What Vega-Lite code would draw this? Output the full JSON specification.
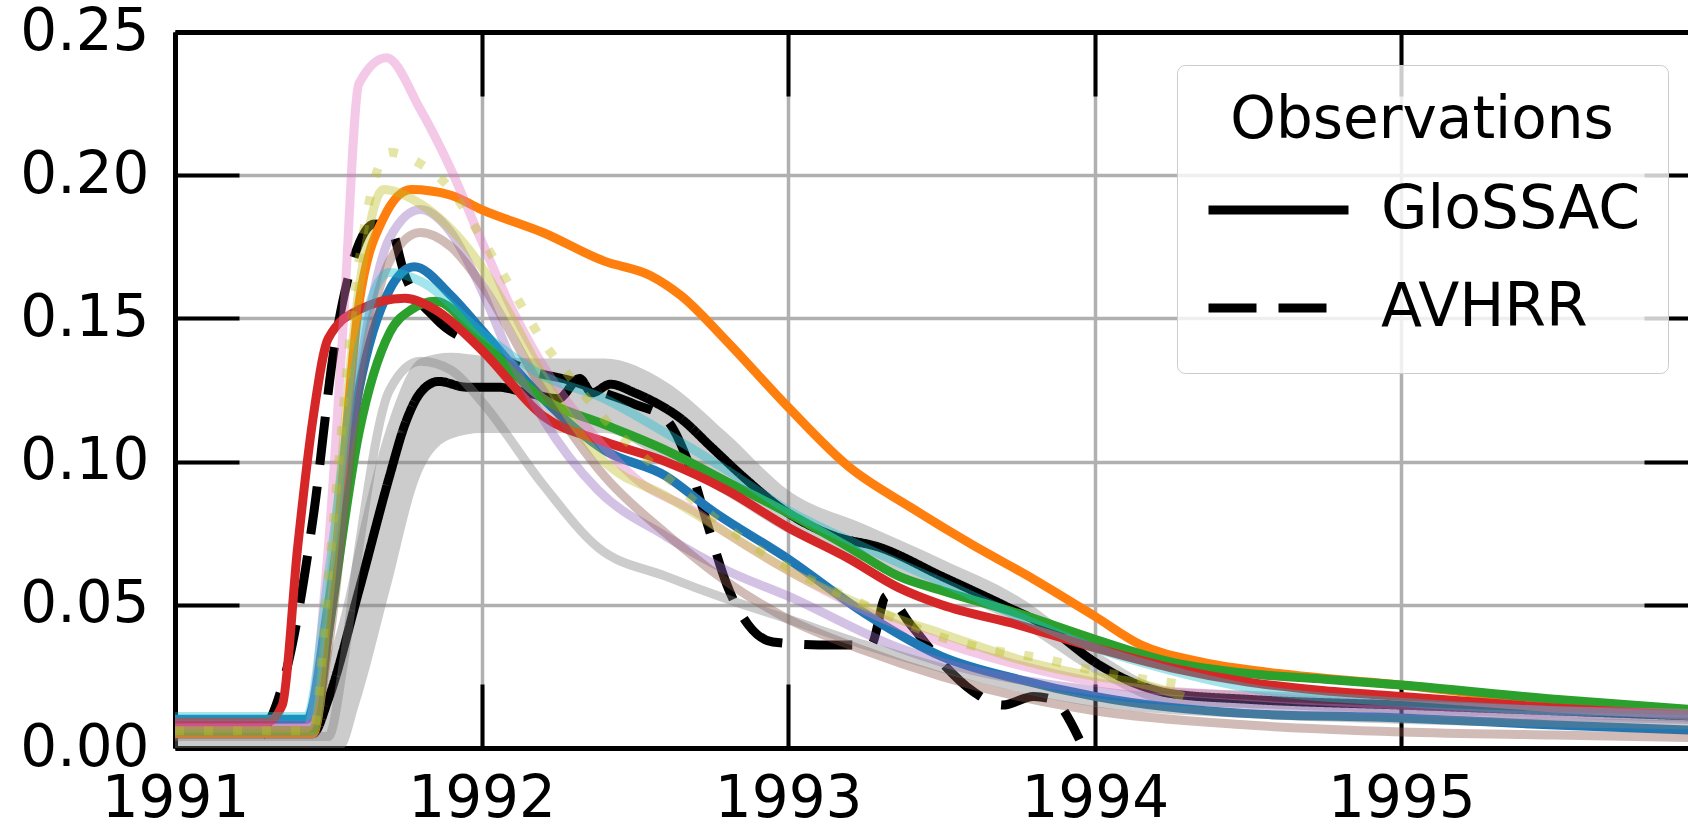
{
  "$schema": "https://vega.github.io/schema/vega-lite/v6.json",
  "width": 1513,
  "height": 716,
  "autosize": {"type": "none"},
  "padding": {"left": 175, "top": 32, "right": 0, "bottom": 77},
  "background": "white",
  "config": {"view": {"stroke": null}, "font": "DejaVu Sans"},
  "datasets": {
    "band": [
      {"year": 1991.0, "lo": 0.0, "hi": 0.010},
      {"year": 1991.45, "lo": 0.0, "hi": 0.010},
      {"year": 1991.5, "lo": 0.0, "hi": 0.030},
      {"year": 1991.55, "lo": 0.0, "hi": 0.050},
      {"year": 1991.6, "lo": 0.015, "hi": 0.075},
      {"year": 1991.7, "lo": 0.055, "hi": 0.115},
      {"year": 1991.8, "lo": 0.095, "hi": 0.136},
      {"year": 1991.9, "lo": 0.108, "hi": 0.138},
      {"year": 1992.0, "lo": 0.110, "hi": 0.137},
      {"year": 1992.2, "lo": 0.110, "hi": 0.136},
      {"year": 1992.4, "lo": 0.110, "hi": 0.136},
      {"year": 1992.6, "lo": 0.100, "hi": 0.128},
      {"year": 1992.8, "lo": 0.088, "hi": 0.110},
      {"year": 1993.0, "lo": 0.075, "hi": 0.090},
      {"year": 1993.25, "lo": 0.065, "hi": 0.078},
      {"year": 1993.5, "lo": 0.055, "hi": 0.066},
      {"year": 1993.75, "lo": 0.043, "hi": 0.053},
      {"year": 1994.0, "lo": 0.026, "hi": 0.034},
      {"year": 1994.25, "lo": 0.015, "hi": 0.021},
      {"year": 1994.5, "lo": 0.014, "hi": 0.020},
      {"year": 1995.0, "lo": 0.012, "hi": 0.018},
      {"year": 1996.0, "lo": 0.009, "hi": 0.014}
    ],
    "obs": [
      {"obs": "GloSSAC", "year": 1991.0, "aod": 0.005},
      {"obs": "GloSSAC", "year": 1991.45, "aod": 0.005},
      {"obs": "GloSSAC", "year": 1991.5, "aod": 0.017},
      {"obs": "GloSSAC", "year": 1991.6, "aod": 0.055},
      {"obs": "GloSSAC", "year": 1991.7, "aod": 0.095},
      {"obs": "GloSSAC", "year": 1991.75, "aod": 0.113},
      {"obs": "GloSSAC", "year": 1991.8, "aod": 0.124},
      {"obs": "GloSSAC", "year": 1991.86, "aod": 0.128},
      {"obs": "GloSSAC", "year": 1991.95, "aod": 0.126},
      {"obs": "GloSSAC", "year": 1992.05, "aod": 0.126},
      {"obs": "GloSSAC", "year": 1992.15, "aod": 0.124},
      {"obs": "GloSSAC", "year": 1992.25, "aod": 0.122},
      {"obs": "GloSSAC", "year": 1992.32, "aod": 0.129},
      {"obs": "GloSSAC", "year": 1992.36, "aod": 0.124},
      {"obs": "GloSSAC", "year": 1992.42, "aod": 0.127},
      {"obs": "GloSSAC", "year": 1992.5, "aod": 0.124},
      {"obs": "GloSSAC", "year": 1992.56, "aod": 0.121},
      {"obs": "GloSSAC", "year": 1992.65, "aod": 0.115},
      {"obs": "GloSSAC", "year": 1992.75, "aod": 0.105},
      {"obs": "GloSSAC", "year": 1992.85, "aod": 0.095},
      {"obs": "GloSSAC", "year": 1993.0, "aod": 0.082},
      {"obs": "GloSSAC", "year": 1993.15, "aod": 0.074},
      {"obs": "GloSSAC", "year": 1993.3, "aod": 0.070},
      {"obs": "GloSSAC", "year": 1993.5, "aod": 0.060},
      {"obs": "GloSSAC", "year": 1993.7, "aod": 0.050},
      {"obs": "GloSSAC", "year": 1993.85, "aod": 0.042},
      {"obs": "GloSSAC", "year": 1994.0, "aod": 0.030},
      {"obs": "GloSSAC", "year": 1994.1, "aod": 0.024},
      {"obs": "GloSSAC", "year": 1994.25, "aod": 0.019},
      {"obs": "GloSSAC", "year": 1994.5, "aod": 0.017},
      {"obs": "GloSSAC", "year": 1995.0, "aod": 0.015},
      {"obs": "GloSSAC", "year": 1995.5, "aod": 0.013},
      {"obs": "GloSSAC", "year": 1996.0, "aod": 0.011},
      {"obs": "AVHRR", "year": 1991.28, "aod": 0.004},
      {"obs": "AVHRR", "year": 1991.33, "aod": 0.015},
      {"obs": "AVHRR", "year": 1991.37, "aod": 0.030},
      {"obs": "AVHRR", "year": 1991.45, "aod": 0.080},
      {"obs": "AVHRR", "year": 1991.52, "aod": 0.140},
      {"obs": "AVHRR", "year": 1991.58, "aod": 0.170},
      {"obs": "AVHRR", "year": 1991.65, "aod": 0.183},
      {"obs": "AVHRR", "year": 1991.7, "aod": 0.182},
      {"obs": "AVHRR", "year": 1991.75, "aod": 0.165},
      {"obs": "AVHRR", "year": 1991.85, "aod": 0.150},
      {"obs": "AVHRR", "year": 1992.0, "aod": 0.140},
      {"obs": "AVHRR", "year": 1992.15, "aod": 0.132},
      {"obs": "AVHRR", "year": 1992.3, "aod": 0.128},
      {"obs": "AVHRR", "year": 1992.4, "aod": 0.124},
      {"obs": "AVHRR", "year": 1992.5, "aod": 0.120},
      {"obs": "AVHRR", "year": 1992.6, "aod": 0.115},
      {"obs": "AVHRR", "year": 1992.68, "aod": 0.098},
      {"obs": "AVHRR", "year": 1992.74, "aod": 0.077},
      {"obs": "AVHRR", "year": 1992.8, "aod": 0.057},
      {"obs": "AVHRR", "year": 1992.87, "aod": 0.043},
      {"obs": "AVHRR", "year": 1992.95, "aod": 0.037},
      {"obs": "AVHRR", "year": 1993.1, "aod": 0.036},
      {"obs": "AVHRR", "year": 1993.27, "aod": 0.036},
      {"obs": "AVHRR", "year": 1993.32, "aod": 0.053},
      {"obs": "AVHRR", "year": 1993.4, "aod": 0.043},
      {"obs": "AVHRR", "year": 1993.5, "aod": 0.030},
      {"obs": "AVHRR", "year": 1993.6, "aod": 0.020},
      {"obs": "AVHRR", "year": 1993.7, "aod": 0.015},
      {"obs": "AVHRR", "year": 1993.8, "aod": 0.018},
      {"obs": "AVHRR", "year": 1993.86, "aod": 0.017},
      {"obs": "AVHRR", "year": 1993.95, "aod": 0.003}
    ],
    "models": [
      {"model": "M01", "year": 1991.0, "aod": 0.010},
      {"model": "M01", "year": 1991.43, "aod": 0.010},
      {"model": "M01", "year": 1991.5, "aod": 0.050},
      {"model": "M01", "year": 1991.6, "aod": 0.125},
      {"model": "M01", "year": 1991.7, "aod": 0.160},
      {"model": "M01", "year": 1991.78, "aod": 0.168},
      {"model": "M01", "year": 1991.9, "aod": 0.158},
      {"model": "M01", "year": 1992.0, "aod": 0.146},
      {"model": "M01", "year": 1992.2, "aod": 0.122},
      {"model": "M01", "year": 1992.4, "aod": 0.104},
      {"model": "M01", "year": 1992.6, "aod": 0.095},
      {"model": "M01", "year": 1992.75, "aod": 0.083},
      {"model": "M01", "year": 1993.0, "aod": 0.066},
      {"model": "M01", "year": 1993.25, "aod": 0.047},
      {"model": "M01", "year": 1993.5, "aod": 0.032},
      {"model": "M01", "year": 1993.75, "aod": 0.024},
      {"model": "M01", "year": 1994.0, "aod": 0.018},
      {"model": "M01", "year": 1994.5, "aod": 0.012},
      {"model": "M01", "year": 1995.0, "aod": 0.0105},
      {"model": "M01", "year": 1995.5, "aod": 0.008},
      {"model": "M01", "year": 1996.0, "aod": 0.006},

      {"model": "M02", "year": 1991.0, "aod": 0.005},
      {"model": "M02", "year": 1991.45, "aod": 0.005},
      {"model": "M02", "year": 1991.5, "aod": 0.040},
      {"model": "M02", "year": 1991.6, "aod": 0.155},
      {"model": "M02", "year": 1991.68, "aod": 0.185},
      {"model": "M02", "year": 1991.77, "aod": 0.195},
      {"model": "M02", "year": 1991.9, "aod": 0.193},
      {"model": "M02", "year": 1992.0, "aod": 0.188},
      {"model": "M02", "year": 1992.2, "aod": 0.180},
      {"model": "M02", "year": 1992.4, "aod": 0.170},
      {"model": "M02", "year": 1992.55, "aod": 0.165},
      {"model": "M02", "year": 1992.65, "aod": 0.158},
      {"model": "M02", "year": 1992.8, "aod": 0.142},
      {"model": "M02", "year": 1993.0, "aod": 0.119},
      {"model": "M02", "year": 1993.2, "aod": 0.098},
      {"model": "M02", "year": 1993.4, "aod": 0.084},
      {"model": "M02", "year": 1993.6, "aod": 0.071},
      {"model": "M02", "year": 1993.8, "aod": 0.059},
      {"model": "M02", "year": 1994.0, "aod": 0.046},
      {"model": "M02", "year": 1994.15, "aod": 0.036},
      {"model": "M02", "year": 1994.35, "aod": 0.030},
      {"model": "M02", "year": 1994.6, "aod": 0.026},
      {"model": "M02", "year": 1995.0, "aod": 0.022},
      {"model": "M02", "year": 1995.5, "aod": 0.016},
      {"model": "M02", "year": 1996.0, "aod": 0.012},

      {"model": "M03", "year": 1991.0, "aod": 0.006},
      {"model": "M03", "year": 1991.45, "aod": 0.006},
      {"model": "M03", "year": 1991.5, "aod": 0.040},
      {"model": "M03", "year": 1991.6, "aod": 0.110},
      {"model": "M03", "year": 1991.7, "aod": 0.145},
      {"model": "M03", "year": 1991.77, "aod": 0.153},
      {"model": "M03", "year": 1991.85, "aod": 0.156},
      {"model": "M03", "year": 1992.0, "aod": 0.142},
      {"model": "M03", "year": 1992.2, "aod": 0.122},
      {"model": "M03", "year": 1992.4, "aod": 0.113},
      {"model": "M03", "year": 1992.6, "aod": 0.104},
      {"model": "M03", "year": 1992.8, "aod": 0.093},
      {"model": "M03", "year": 1993.0, "aod": 0.082},
      {"model": "M03", "year": 1993.2, "aod": 0.070},
      {"model": "M03", "year": 1993.36, "aod": 0.060},
      {"model": "M03", "year": 1993.5, "aod": 0.055},
      {"model": "M03", "year": 1993.75, "aod": 0.047},
      {"model": "M03", "year": 1994.0, "aod": 0.038},
      {"model": "M03", "year": 1994.25, "aod": 0.030},
      {"model": "M03", "year": 1994.5, "aod": 0.026},
      {"model": "M03", "year": 1994.75, "aod": 0.024},
      {"model": "M03", "year": 1995.0, "aod": 0.022},
      {"model": "M03", "year": 1995.5, "aod": 0.017},
      {"model": "M03", "year": 1996.0, "aod": 0.013},

      {"model": "M04", "year": 1991.0, "aod": 0.009},
      {"model": "M04", "year": 1991.3, "aod": 0.009},
      {"model": "M04", "year": 1991.35, "aod": 0.015},
      {"model": "M04", "year": 1991.4, "aod": 0.070},
      {"model": "M04", "year": 1991.45, "aod": 0.115},
      {"model": "M04", "year": 1991.5, "aod": 0.143},
      {"model": "M04", "year": 1991.6, "aod": 0.153},
      {"model": "M04", "year": 1991.75, "aod": 0.157},
      {"model": "M04", "year": 1991.85, "aod": 0.153},
      {"model": "M04", "year": 1992.0, "aod": 0.139},
      {"model": "M04", "year": 1992.2, "aod": 0.116},
      {"model": "M04", "year": 1992.4, "aod": 0.107},
      {"model": "M04", "year": 1992.6, "aod": 0.100},
      {"model": "M04", "year": 1992.8, "aod": 0.090},
      {"model": "M04", "year": 1993.0, "aod": 0.077},
      {"model": "M04", "year": 1993.2, "aod": 0.066},
      {"model": "M04", "year": 1993.36, "aod": 0.056},
      {"model": "M04", "year": 1993.5, "aod": 0.050},
      {"model": "M04", "year": 1993.75, "aod": 0.043},
      {"model": "M04", "year": 1994.0, "aod": 0.035},
      {"model": "M04", "year": 1994.25, "aod": 0.028},
      {"model": "M04", "year": 1994.5, "aod": 0.023},
      {"model": "M04", "year": 1994.75, "aod": 0.020},
      {"model": "M04", "year": 1995.0, "aod": 0.018},
      {"model": "M04", "year": 1995.5, "aod": 0.014},
      {"model": "M04", "year": 1996.0, "aod": 0.011},

      {"model": "M05", "year": 1991.0, "aod": 0.008},
      {"model": "M05", "year": 1991.45, "aod": 0.008},
      {"model": "M05", "year": 1991.5, "aod": 0.040},
      {"model": "M05", "year": 1991.6, "aod": 0.130},
      {"model": "M05", "year": 1991.7, "aod": 0.178},
      {"model": "M05", "year": 1991.8, "aod": 0.188},
      {"model": "M05", "year": 1991.9, "aod": 0.180},
      {"model": "M05", "year": 1992.0, "aod": 0.160},
      {"model": "M05", "year": 1992.1, "aod": 0.135},
      {"model": "M05", "year": 1992.2, "aod": 0.115},
      {"model": "M05", "year": 1992.38, "aod": 0.090},
      {"model": "M05", "year": 1992.6, "aod": 0.074},
      {"model": "M05", "year": 1992.8, "aod": 0.062},
      {"model": "M05", "year": 1993.0, "aod": 0.053},
      {"model": "M05", "year": 1993.36, "aod": 0.035},
      {"model": "M05", "year": 1993.5, "aod": 0.030},
      {"model": "M05", "year": 1994.0, "aod": 0.020},
      {"model": "M05", "year": 1994.66, "aod": 0.0143},
      {"model": "M05", "year": 1995.0, "aod": 0.013},
      {"model": "M05", "year": 1995.5, "aod": 0.011},
      {"model": "M05", "year": 1996.0, "aod": 0.0098},

      {"model": "M06", "year": 1991.0, "aod": 0.006},
      {"model": "M06", "year": 1991.45, "aod": 0.006},
      {"model": "M06", "year": 1991.5, "aod": 0.035},
      {"model": "M06", "year": 1991.6, "aod": 0.125},
      {"model": "M06", "year": 1991.7, "aod": 0.170},
      {"model": "M06", "year": 1991.8, "aod": 0.180},
      {"model": "M06", "year": 1991.9, "aod": 0.175},
      {"model": "M06", "year": 1992.0, "aod": 0.162},
      {"model": "M06", "year": 1992.2, "aod": 0.125},
      {"model": "M06", "year": 1992.4, "aod": 0.095},
      {"model": "M06", "year": 1992.6, "aod": 0.075},
      {"model": "M06", "year": 1992.8, "aod": 0.058},
      {"model": "M06", "year": 1993.0, "aod": 0.045},
      {"model": "M06", "year": 1993.25, "aod": 0.034},
      {"model": "M06", "year": 1993.5, "aod": 0.025},
      {"model": "M06", "year": 1993.75, "aod": 0.018},
      {"model": "M06", "year": 1994.0, "aod": 0.013},
      {"model": "M06", "year": 1994.5, "aod": 0.008},
      {"model": "M06", "year": 1995.0, "aod": 0.0056},
      {"model": "M06", "year": 1995.5, "aod": 0.0045},
      {"model": "M06", "year": 1996.0, "aod": 0.0035},

      {"model": "M07", "year": 1991.0, "aod": 0.007},
      {"model": "M07", "year": 1991.43, "aod": 0.007},
      {"model": "M07", "year": 1991.5, "aod": 0.070},
      {"model": "M07", "year": 1991.55, "aod": 0.150},
      {"model": "M07", "year": 1991.6, "aod": 0.232},
      {"model": "M07", "year": 1991.69, "aod": 0.241},
      {"model": "M07", "year": 1991.8, "aod": 0.223},
      {"model": "M07", "year": 1991.9, "aod": 0.202},
      {"model": "M07", "year": 1992.0, "aod": 0.177},
      {"model": "M07", "year": 1992.1, "aod": 0.153},
      {"model": "M07", "year": 1992.17, "aod": 0.139},
      {"model": "M07", "year": 1992.3, "aod": 0.118},
      {"model": "M07", "year": 1992.4, "aod": 0.105},
      {"model": "M07", "year": 1992.52, "aod": 0.0925},
      {"model": "M07", "year": 1992.69, "aod": 0.083},
      {"model": "M07", "year": 1992.8, "aod": 0.075},
      {"model": "M07", "year": 1993.0, "aod": 0.062},
      {"model": "M07", "year": 1993.25, "aod": 0.048},
      {"model": "M07", "year": 1993.5, "aod": 0.037},
      {"model": "M07", "year": 1993.75, "aod": 0.029},
      {"model": "M07", "year": 1994.0, "aod": 0.023},
      {"model": "M07", "year": 1994.5, "aod": 0.018},
      {"model": "M07", "year": 1995.0, "aod": 0.015},
      {"model": "M07", "year": 1995.5, "aod": 0.013},
      {"model": "M07", "year": 1996.0, "aod": 0.012},

      {"model": "M08", "year": 1991.0, "aod": 0.004},
      {"model": "M08", "year": 1991.5, "aod": 0.004},
      {"model": "M08", "year": 1991.55, "aod": 0.030},
      {"model": "M08", "year": 1991.6, "aod": 0.070},
      {"model": "M08", "year": 1991.7, "aod": 0.125},
      {"model": "M08", "year": 1991.8, "aod": 0.135},
      {"model": "M08", "year": 1991.9, "aod": 0.132},
      {"model": "M08", "year": 1992.0, "aod": 0.121},
      {"model": "M08", "year": 1992.2, "aod": 0.092},
      {"model": "M08", "year": 1992.38, "aod": 0.070},
      {"model": "M08", "year": 1992.6, "aod": 0.060},
      {"model": "M08", "year": 1992.8, "aod": 0.052},
      {"model": "M08", "year": 1993.0, "aod": 0.045},
      {"model": "M08", "year": 1993.25, "aod": 0.036},
      {"model": "M08", "year": 1993.5, "aod": 0.028},
      {"model": "M08", "year": 1994.0, "aod": 0.016},
      {"model": "M08", "year": 1994.5, "aod": 0.012},
      {"model": "M08", "year": 1995.0, "aod": 0.010},
      {"model": "M08", "year": 1996.0, "aod": 0.008},

      {"model": "M09", "year": 1991.0, "aod": 0.006},
      {"model": "M09", "year": 1991.45, "aod": 0.006},
      {"model": "M09", "year": 1991.5, "aod": 0.050},
      {"model": "M09", "year": 1991.6, "aod": 0.160},
      {"model": "M09", "year": 1991.68, "aod": 0.195},
      {"model": "M09", "year": 1991.8, "aod": 0.190},
      {"model": "M09", "year": 1992.0, "aod": 0.168},
      {"model": "M09", "year": 1992.1, "aod": 0.150},
      {"model": "M09", "year": 1992.2, "aod": 0.130},
      {"model": "M09", "year": 1992.4, "aod": 0.100},
      {"model": "M09", "year": 1992.6, "aod": 0.088},
      {"model": "M09", "year": 1992.8, "aod": 0.075},
      {"model": "M09", "year": 1993.0, "aod": 0.062},
      {"model": "M09", "year": 1993.36, "aod": 0.045},
      {"model": "M09", "year": 1993.5, "aod": 0.040},
      {"model": "M09", "year": 1993.75, "aod": 0.031},
      {"model": "M09", "year": 1994.0, "aod": 0.025},
      {"model": "M09", "year": 1994.13, "aod": 0.023},
      {"model": "M09", "year": 1994.29, "aod": 0.018},

      {"model": "M10", "year": 1991.0, "aod": 0.011},
      {"model": "M10", "year": 1991.43, "aod": 0.011},
      {"model": "M10", "year": 1991.5, "aod": 0.060},
      {"model": "M10", "year": 1991.6, "aod": 0.140},
      {"model": "M10", "year": 1991.7, "aod": 0.166},
      {"model": "M10", "year": 1991.8, "aod": 0.163},
      {"model": "M10", "year": 1992.0, "aod": 0.145},
      {"model": "M10", "year": 1992.2, "aod": 0.130},
      {"model": "M10", "year": 1992.4, "aod": 0.122},
      {"model": "M10", "year": 1992.6, "aod": 0.110},
      {"model": "M10", "year": 1992.8, "aod": 0.097},
      {"model": "M10", "year": 1993.0, "aod": 0.083},
      {"model": "M10", "year": 1993.25, "aod": 0.070},
      {"model": "M10", "year": 1993.5, "aod": 0.058},
      {"model": "M10", "year": 1993.75, "aod": 0.046},
      {"model": "M10", "year": 1994.0, "aod": 0.035},
      {"model": "M10", "year": 1994.25, "aod": 0.027},
      {"model": "M10", "year": 1994.5, "aod": 0.021},
      {"model": "M10", "year": 1995.0, "aod": 0.016},
      {"model": "M10", "year": 1995.5, "aod": 0.013},
      {"model": "M10", "year": 1996.0, "aod": 0.011}
    ],
    "dotted": [
      {"model": "M11", "year": 1991.0, "aod": 0.006},
      {"model": "M11", "year": 1991.45, "aod": 0.006},
      {"model": "M11", "year": 1991.5, "aod": 0.060},
      {"model": "M11", "year": 1991.6, "aod": 0.170},
      {"model": "M11", "year": 1991.7, "aod": 0.208},
      {"model": "M11", "year": 1991.8, "aod": 0.204},
      {"model": "M11", "year": 1991.9, "aod": 0.195},
      {"model": "M11", "year": 1992.0, "aod": 0.178},
      {"model": "M11", "year": 1992.1, "aod": 0.160},
      {"model": "M11", "year": 1992.2, "aod": 0.142},
      {"model": "M11", "year": 1992.3, "aod": 0.128},
      {"model": "M11", "year": 1992.4, "aod": 0.115},
      {"model": "M11", "year": 1992.6, "aod": 0.095},
      {"model": "M11", "year": 1992.8, "aod": 0.077},
      {"model": "M11", "year": 1993.0, "aod": 0.063},
      {"model": "M11", "year": 1993.25, "aod": 0.050},
      {"model": "M11", "year": 1993.52, "aod": 0.038},
      {"model": "M11", "year": 1993.63, "aod": 0.035},
      {"model": "M11", "year": 1993.84, "aod": 0.031},
      {"model": "M11", "year": 1994.0, "aod": 0.027},
      {"model": "M11", "year": 1994.3, "aod": 0.022}
    ]
  },
  "layer": [
    {
      "data": {"name": "band"},
      "mark": {"type": "area", "color": "#808080", "opacity": 0.4, "interpolate": "monotone"},
      "encoding": {
        "x": {
          "field": "year", "type": "quantitative",
          "scale": {"domain": [1991, 1995.935], "nice": false, "zero": false},
          "axis": {
            "orient": "bottom", "values": [1991, 1992, 1993, 1994, 1995], "format": "d", "title": null,
            "grid": true, "gridColor": "#b0b0b0", "gridWidth": 3.5,
            "domainColor": "black", "domainWidth": 5,
            "tickColor": "black", "tickWidth": 4, "tickSize": -64,
            "labelFont": "DejaVu Sans", "labelFontSize": 58, "labelColor": "black",
            "labelPadding": 86, "labelFlush": false, "labelOverlap": false
          }
        },
        "y": {
          "field": "lo", "type": "quantitative",
          "scale": {"domain": [0, 0.25], "nice": false, "zero": false},
          "axis": {
            "orient": "left", "values": [0, 0.05, 0.1, 0.15, 0.2, 0.25], "format": ".2f", "title": null,
            "grid": true, "gridColor": "#b0b0b0", "gridWidth": 3.5,
            "domainColor": "black", "domainWidth": 5,
            "tickColor": "black", "tickWidth": 4, "tickSize": -64,
            "labelFont": "DejaVu Sans", "labelFontSize": 58, "labelColor": "black",
            "labelPadding": 90, "labelFlush": false, "labelOverlap": false
          }
        },
        "y2": {"field": "hi"}
      }
    },
    {
      "data": {"name": "obs"},
      "mark": {"type": "line", "color": "black", "strokeWidth": 9, "interpolate": "monotone"},
      "encoding": {
        "x": {
          "field": "year", "type": "quantitative",
          "axis": {
            "orient": "top", "values": [1991, 1992, 1993, 1994, 1995], "labels": false, "title": null,
            "grid": false, "domainColor": "black", "domainWidth": 5,
            "tickColor": "black", "tickWidth": 4, "tickSize": -64
          }
        },
        "y": {
          "field": "aod", "type": "quantitative",
          "axis": {
            "orient": "right", "values": [0.05, 0.1, 0.15, 0.2], "labels": false, "title": null,
            "grid": false, "domain": false, "offset": 20,
            "tickColor": "black", "tickWidth": 4, "tickSize": -64
          }
        },
        "strokeDash": {
          "field": "obs", "type": "nominal",
          "scale": {"domain": ["GloSSAC", "AVHRR"], "range": [[1, 0], [48, 22]]},
          "legend": {
            "title": "Observations", "orient": "none", "legendX": 1002, "legendY": 33,
            "symbolType": "stroke", "symbolSize": 19600, "symbolStrokeWidth": 9, "symbolStrokeColor": "black",
            "labelFont": "DejaVu Sans", "labelFontSize": 60, "labelColor": "black", "labelOffset": 28, "labelLimit": 1000,
            "titleFont": "DejaVu Sans", "titleFontSize": 58, "titleFontWeight": "normal", "titleColor": "black",
            "titleAnchor": "middle", "titlePadding": 22, "titleLimit": 1000,
            "clipHeight": 76, "padding": 27, "rowPadding": 22,
            "fillColor": "rgba(255,255,255,0.8)", "strokeColor": "#cccccc", "cornerRadius": 8
          }
        }
      }
    },
    {
      "data": {"name": "models"},
      "transform": [{"filter": {"field": "model", "oneOf": ["M01", "M02", "M03", "M04"]}}],
      "mark": {"type": "line", "strokeWidth": 9, "interpolate": "monotone"},
      "encoding": {
        "x": {"field": "year", "type": "quantitative", "axis": null},
        "y": {"field": "aod", "type": "quantitative", "axis": null},
        "color": {
          "field": "model", "type": "nominal", "legend": null,
          "scale": {
            "domain": ["M01", "M02", "M03", "M04", "M05", "M06", "M07", "M08", "M09", "M10"],
            "range": ["#1f77b4", "#ff7f0e", "#2ca02c", "#d62728", "#9467bd", "#8c564b", "#e377c2", "#7f7f7f", "#bcbd22", "#17becf"]
          }
        }
      }
    },
    {
      "data": {"name": "models"},
      "transform": [{"filter": {"field": "model", "oneOf": ["M05", "M06", "M07", "M08", "M09", "M10"]}}],
      "mark": {"type": "line", "strokeWidth": 9, "opacity": 0.4, "interpolate": "monotone"},
      "encoding": {
        "x": {"field": "year", "type": "quantitative", "axis": null},
        "y": {"field": "aod", "type": "quantitative", "axis": null},
        "color": {"field": "model", "type": "nominal", "legend": null}
      }
    },
    {
      "data": {"name": "dotted"},
      "mark": {"type": "line", "strokeWidth": 9, "color": "#bcbd22", "opacity": 0.4, "strokeDash": [9, 20], "interpolate": "monotone"},
      "encoding": {
        "x": {"field": "year", "type": "quantitative", "axis": null},
        "y": {"field": "aod", "type": "quantitative", "axis": null}
      }
    }
  ],
  "resolve": {"axis": {"x": "independent", "y": "independent"}}
}
